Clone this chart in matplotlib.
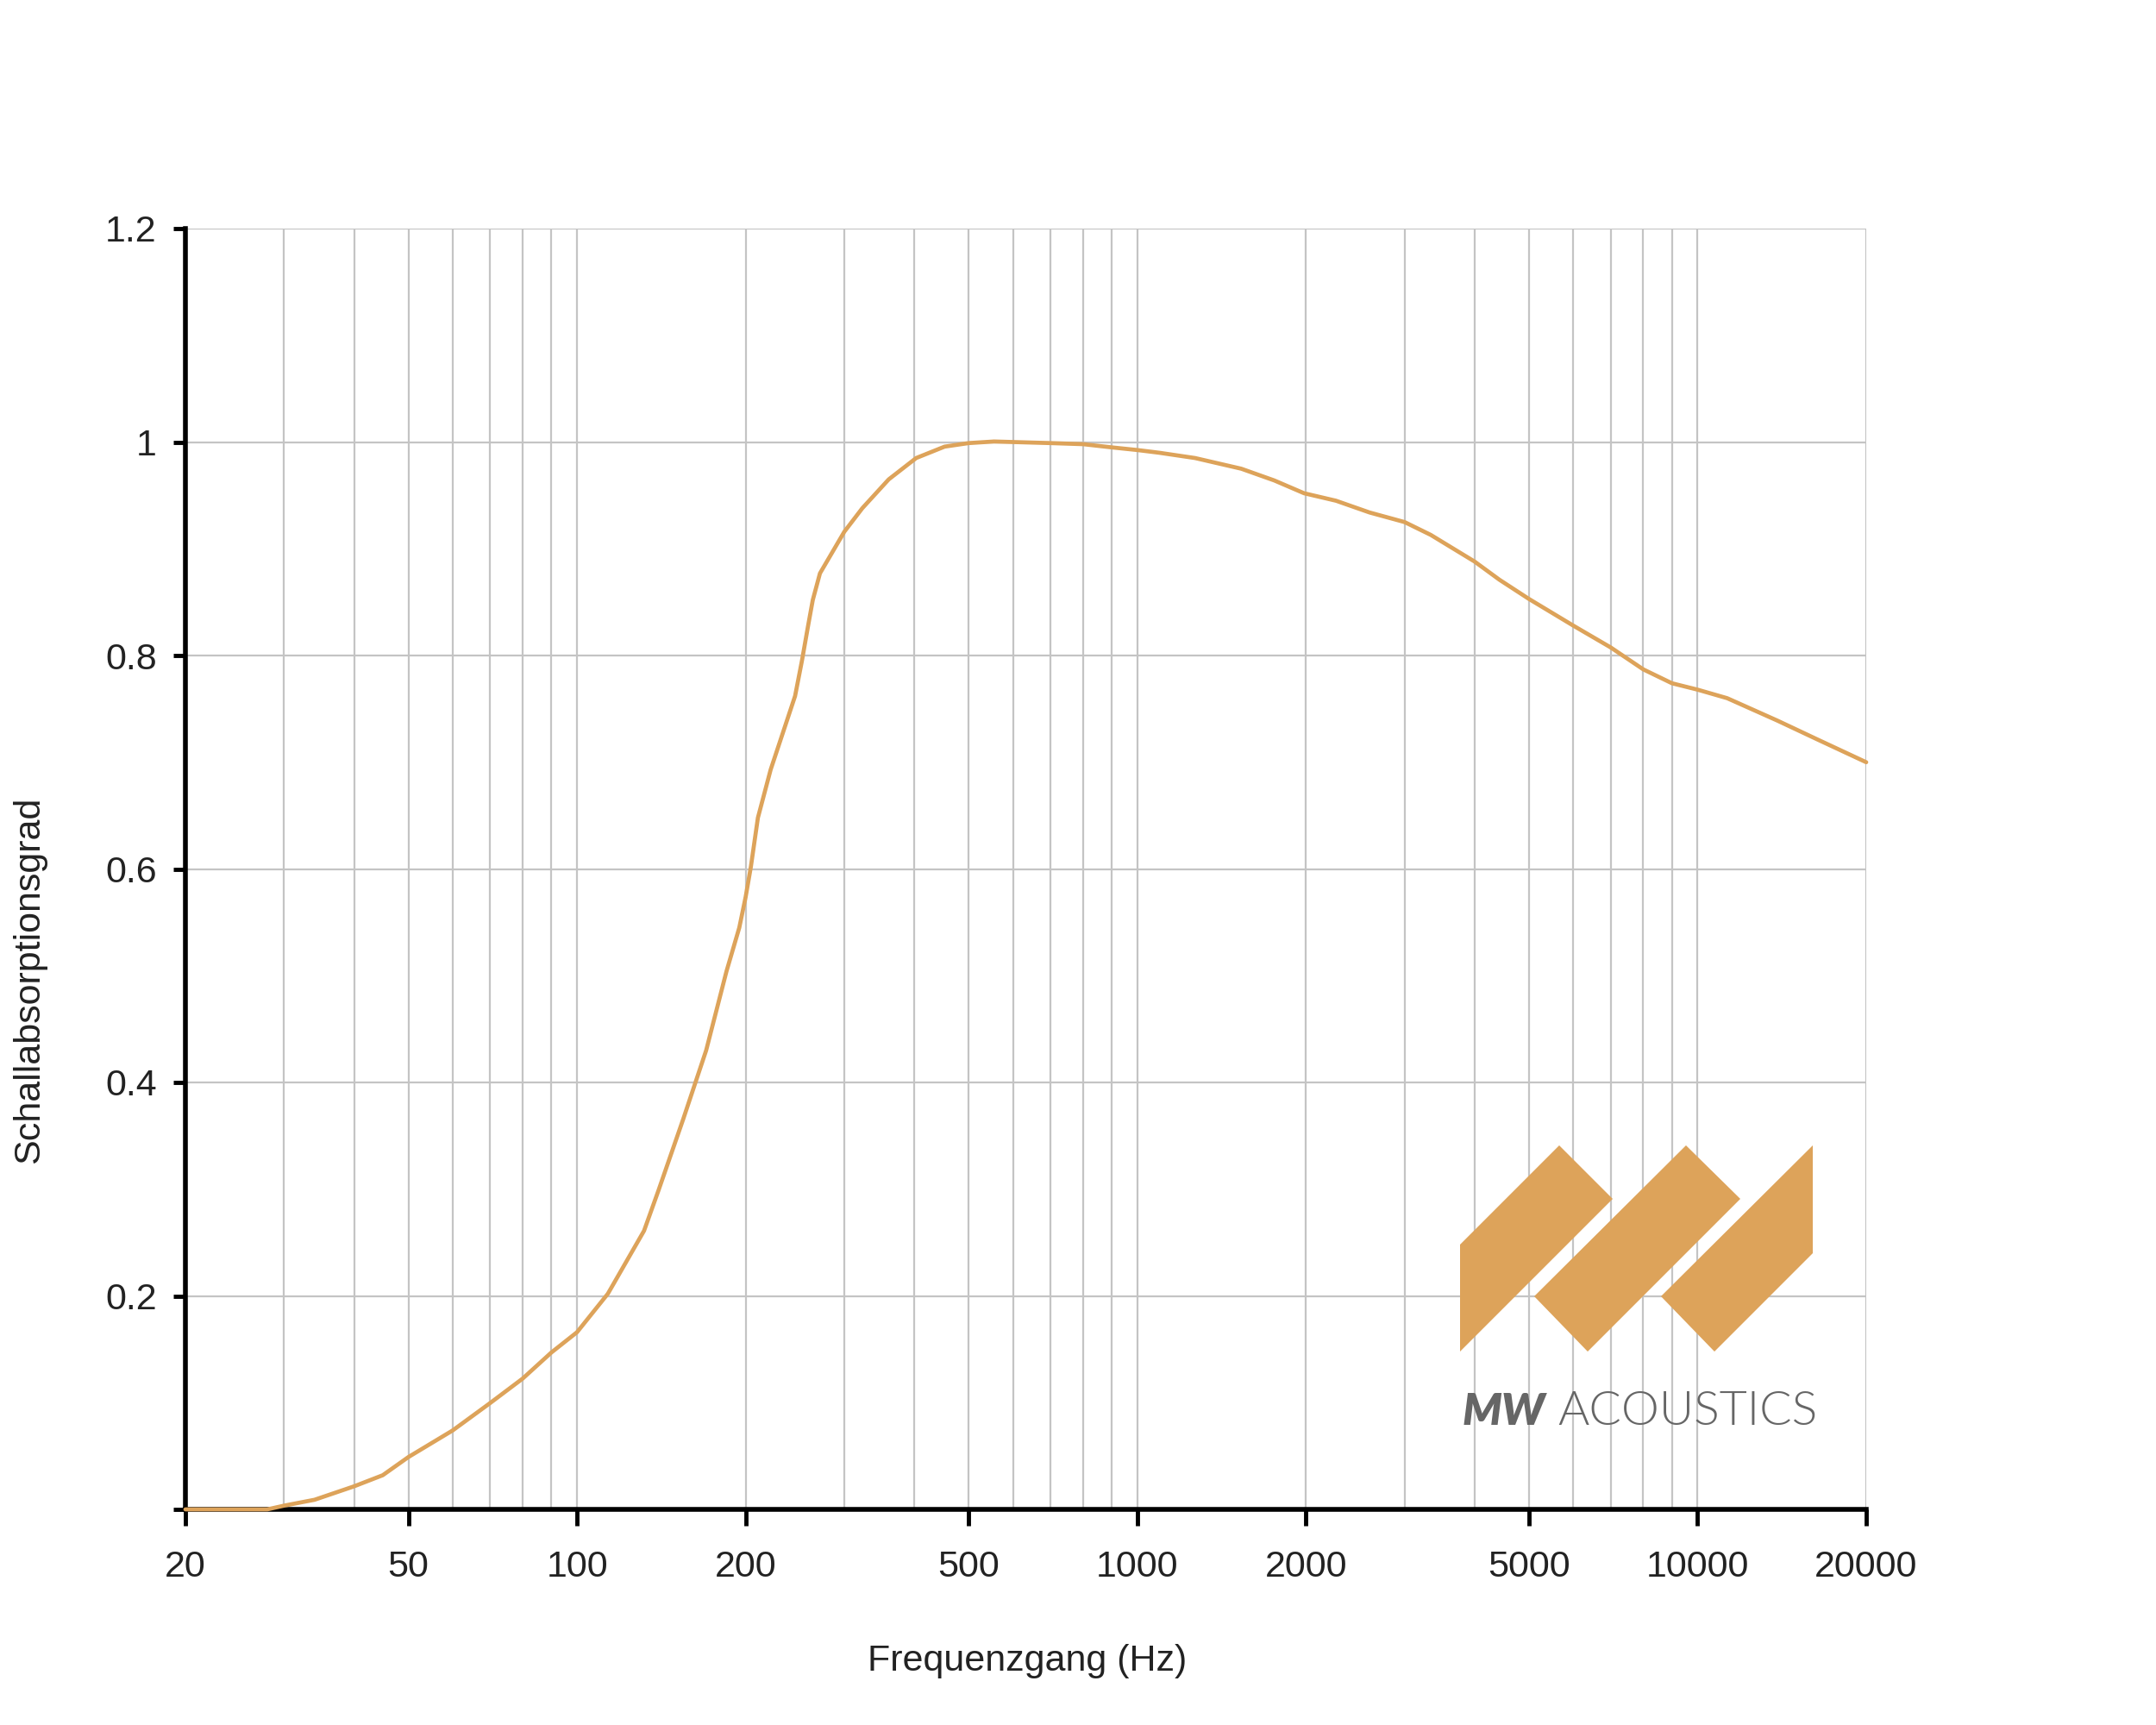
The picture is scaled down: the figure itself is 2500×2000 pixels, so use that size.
import matplotlib
matplotlib.use('Agg')
import matplotlib.pyplot as plt
from matplotlib.patches import Polygon
from matplotlib.ticker import FixedLocator, NullFormatter

plt.rcParams['font.family'] = ['Liberation Sans', 'DejaVu Sans']

# frequency response
freq = [20, 25, 28, 30, 34, 40, 45, 50, 60, 70, 80, 90, 100, 113.5, 131.7,
        139.8, 154.8, 170, 184.8, 194.8, 200, 204.3, 210.3, 221.6, 245, 252,
        258.5, 263.5, 271.4, 300, 323, 360, 403, 453, 500, 555, 600, 700, 800,
        900, 1000, 1093, 1268, 1533, 1756, 1985, 2263, 2597, 3000, 3340, 4000,
        4429, 5000, 6000, 7000, 8000, 9000, 10000, 11294, 13882, 16417, 20000]
alpha = [0.0, 0.0, 0.0, 0.0035, 0.009, 0.0216, 0.032, 0.049, 0.074, 0.0997,
         0.1226, 0.147, 0.166, 0.202, 0.261, 0.299, 0.366, 0.430, 0.504, 0.545,
         0.574, 0.602, 0.648, 0.693, 0.762, 0.795, 0.828, 0.852, 0.877, 0.916,
         0.938, 0.965, 0.985, 0.9957, 0.999, 1.0005, 1.0, 0.999, 0.998, 0.995,
         0.9925, 0.99, 0.985, 0.975, 0.964, 0.952, 0.945, 0.934, 0.925, 0.913,
         0.888, 0.871, 0.853, 0.828, 0.8075, 0.787, 0.774, 0.768, 0.760, 0.739,
         0.721, 0.700]

xticks = [20, 50, 100, 200, 500, 1000, 2000, 5000, 10000, 20000]
xtick_labels = ['20', '50', '100', '200', '500', '1000', '2000', '5000', '10000', '20000']
yticks = [0, 0.2, 0.4, 0.6, 0.8, 1.0, 1.2]
ytick_labels = ['', '0.2', '0.4', '0.6', '0.8', '1', '1.2']

gold = '#dda35a'
grey_grid = '#c4c4c4'
txt = '#222222'

fig = plt.figure(figsize=(25, 20), dpi=100)
ax = fig.add_axes([0.086, 0.125, 0.7796, 0.7425])

ax.plot(freq, alpha, color=gold, lw=3.4, zorder=3, clip_on=False,
        solid_joinstyle='round', solid_capstyle='round')
ax.set_xscale('log')
ax.set_xlim(20, 20000)
ax.set_ylim(0, 1.2)

ax.set_xticks(xticks)
ax.set_xticklabels(xtick_labels)
minor = [m * 10 ** e for e in range(1, 5) for m in range(2, 10)]
minor = [v for v in minor if 20 < v < 20000 and v not in xticks]
ax.xaxis.set_minor_locator(FixedLocator(minor))
ax.xaxis.set_minor_formatter(NullFormatter())
ax.set_yticks(yticks)
ax.set_yticklabels(ytick_labels)

ax.grid(True, which='both', color=grey_grid, lw=1.6, zorder=0)
ax.set_axisbelow(True)
ax.tick_params(axis='x', which='minor', length=0)
ax.tick_params(axis='x', which='major', length=14, width=3.5, labelsize=31, pad=20,
               colors='black', labelcolor=txt)
ax.tick_params(axis='y', which='major', length=10, width=3.5, labelsize=31, pad=14,
               colors='black', labelcolor=txt)

for s in ['top', 'right']:
    ax.spines[s].set_visible(False)
for s in ['left', 'bottom']:
    ax.spines[s].set_linewidth(4)
    ax.spines[s].set_color('black')

fig.text(0.4764, 0.037, 'Frequenzgang (Hz)', fontsize=31, color=txt, ha='center', va='center')
fig.text(0.0135, 0.432, 'Schallabsorptionsgrad', fontsize=31, color=txt,
         rotation=90, ha='center', va='center')

# logo, in figure pixels
W, H = 2500, 2000
def px(pts):
    return [(x / W, 1 - y / H) for x, y in pts]

shapes = [
    [(1693, 1567), (1693, 1443), (1808, 1328), (1870, 1390)],
    [(1779, 1503), (1955, 1328), (2018, 1390), (1841, 1567)],
    [(1926, 1503), (2102, 1328), (2102, 1453), (1988, 1567)],
]
for sh in shapes:
    fig.add_artist(Polygon(px(sh), closed=True, facecolor=gold, edgecolor='none',
                           transform=fig.transFigure, zorder=5))

fig.text(1696 / W, 1 - 1652 / H, 'MW', fontsize=37, fontweight='heavy', fontstyle='italic',
         color='#666666', family=['Lato', 'DejaVu Sans'], ha='left', va='baseline')
fig.text(1806 / W, 1 - 1652 / H, 'ACOUSTICS', fontsize=40, fontweight=300,
         color='#666666', family=['Lato', 'DejaVu Sans'], ha='left', va='baseline')

fig.savefig('out.png', dpi=100, facecolor='white')
